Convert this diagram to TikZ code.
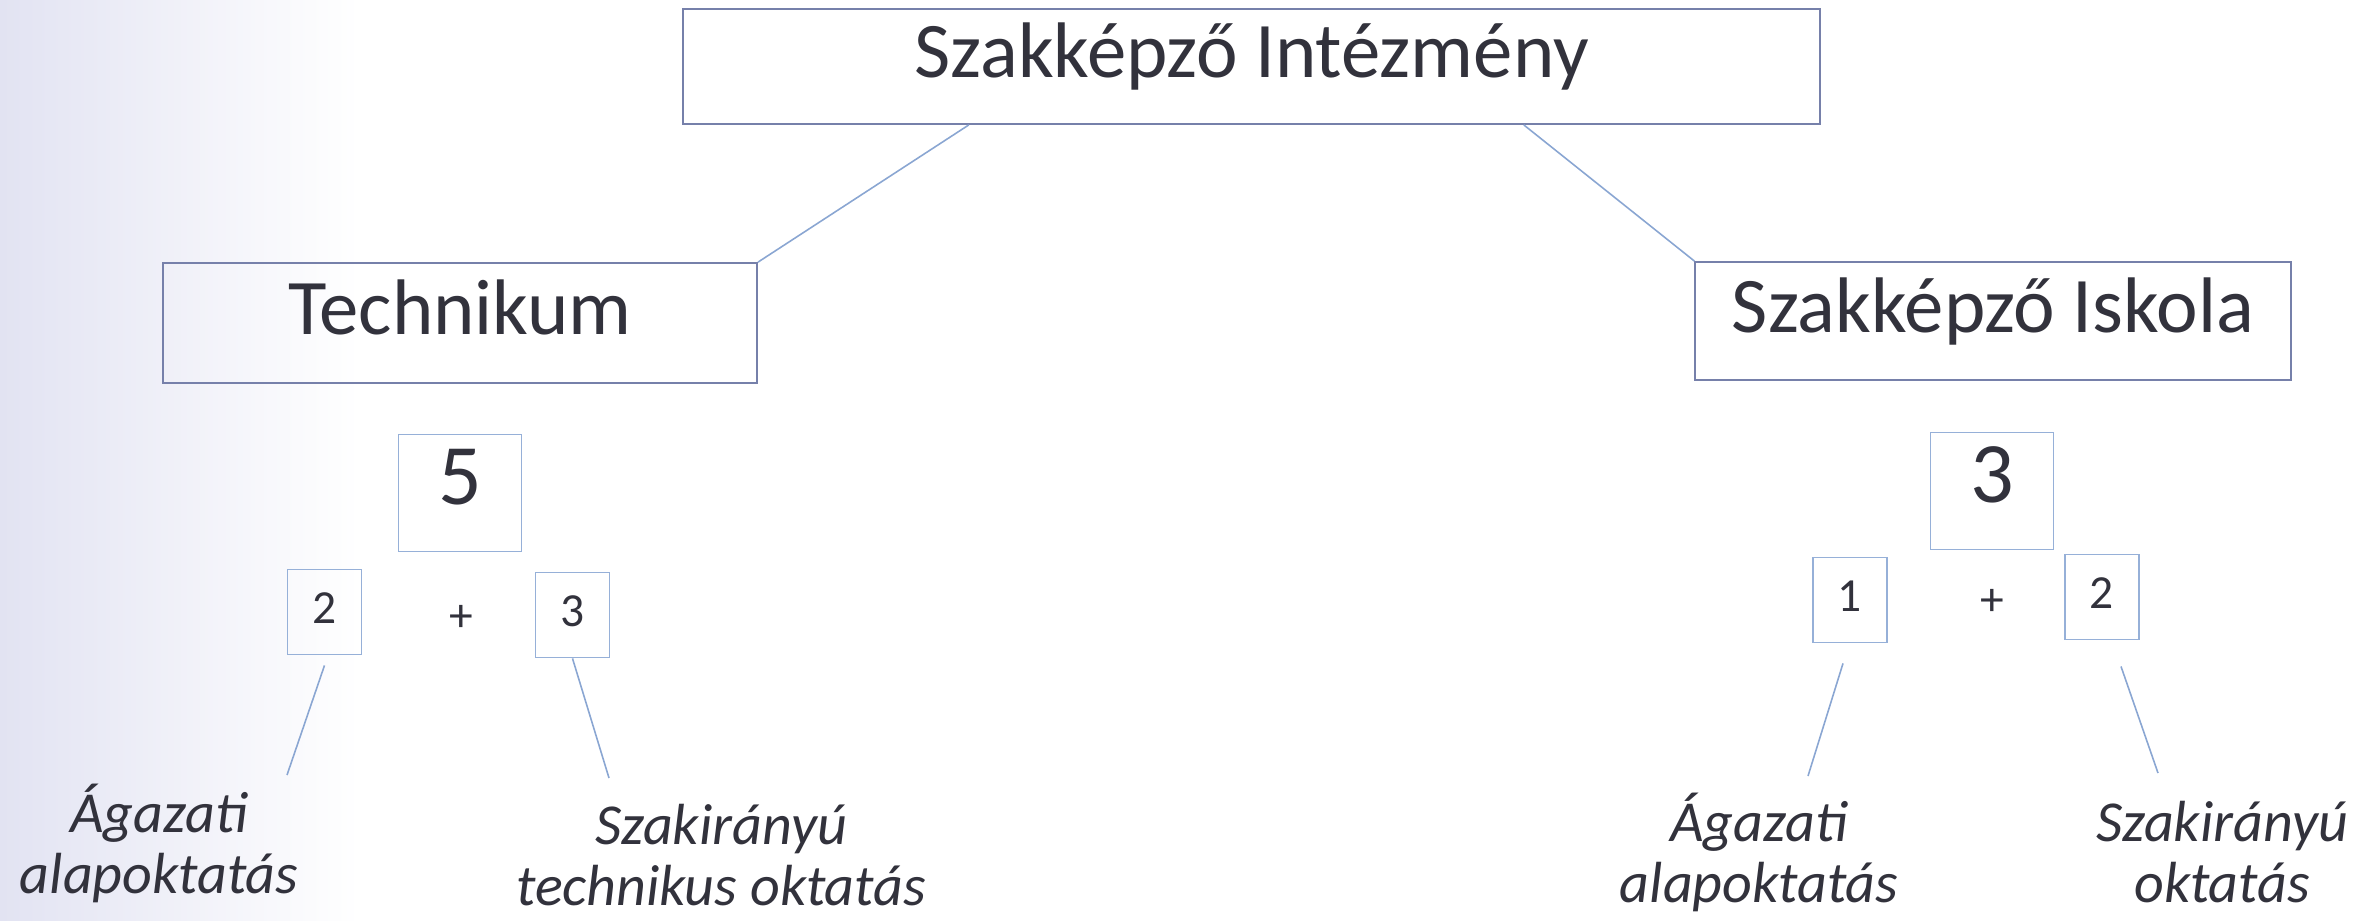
\documentclass[tikz,border=0pt]{standalone}
\usepackage{fontspec}
\setmainfont{Carlito}
\usetikzlibrary{calc}

\definecolor{boxline}{RGB}{118,128,170}
\definecolor{numline}{RGB}{150,176,216}
\definecolor{linkline}{RGB}{138,166,210}
\definecolor{inktext}{RGB}{50,50,60}
\definecolor{scanside}{RGB}{226,227,242}

\begin{document}
\begin{tikzpicture}[x=0.01cm, y=-0.01cm,
    every node/.style={text=inktext, inner sep=0pt},
    mainbox/.style={draw=boxline, line width=0.5pt, font=\fontsize{22.4}{26}\selectfont,
        text height=0.63em, text depth=0pt},
    bignum/.style={draw=numline, line width=0.5pt, minimum width=1.23cm, minimum height=1.17cm,
        font=\fontsize{24.5}{28}\selectfont, text height=0.63em, text depth=0pt},
    smallnum/.style={draw=numline, line width=0.5pt, minimum width=0.74cm, minimum height=0.85cm,
        font=\fontsize{13.5}{16}\selectfont, text height=0.63em, text depth=0pt},
    plus/.style={font=\fontsize{13.5}{16}\selectfont},
    note/.style={align=center, font=\fontsize{16.5}{17.1}\selectfont\itshape},
    link/.style={draw=linkline, line width=0.45pt}]
    \useasboundingbox (0,0) rectangle (2356,920);
    \shade[left color=scanside, right color=white] (0,0) rectangle (360,920);

    \node[mainbox, minimum width=11.37cm, minimum height=1.15cm] (Inst) at (1251.5, 66.5) {Szakképző Intézmény};
    \node[mainbox, minimum width=5.94cm, minimum height=1.2cm] (Tech) at (460, 323) {Technikum};
    \node[mainbox, minimum width=5.95cm, minimum height=1.18cm] (Isk) at (1993, 321) {Szakképző Iskola};

    \node[bignum] (TechSum) at (460, 493) {5};
    \node[smallnum] (TechA) at (324.5, 612) {2};
    \node[plus] (TechPlus) at (461, 618) {+};
    \node[smallnum] (TechB) at (572.5, 615) {3};

    \node[bignum] (IskSum) at (1992, 491) {3};
    \node[smallnum] (IskA) at (1850, 600) {1};
    \node[plus] (IskPlus) at (1992, 602) {+};
    \node[smallnum] (IskB) at (2102, 597) {2};

    \node[note, anchor=base] (TechAlap) at (159, 893) {Ágazati\\alapoktatás};
    \node[note, anchor=base] (TechSzak) at (721, 905) {Szakirányú\\technikus oktatás};
    \node[note, anchor=base] (IskAlap) at (1759, 902) {Ágazati\\alapoktatás};
    \node[note, anchor=base] (IskSzak) at (2222, 902) {Szakirányú\\oktatás};

    \coordinate (TechAend) at (287, 775);
    \coordinate (TechBend) at (609, 778);
    \coordinate (IskAend) at (1808, 776);
    \coordinate (IskBend) at (2158, 773);

    \draw[link] ($(Inst.south west)+(287,0)$) -- (Tech.north east);
    \draw[link] ($(Inst.south west)+(842,0)$) -- (Isk.north west);
    \draw[link] ($(TechA.south)+(0,10)$) -- (TechAend);
    \draw[link] (TechB.south) -- (TechBend);
    \draw[link] ($(IskA.south)+(-7,20)$) -- (IskAend);
    \draw[link] ($(IskB.south)+(19,26)$) -- (IskBend);
\end{tikzpicture}
\end{document}
